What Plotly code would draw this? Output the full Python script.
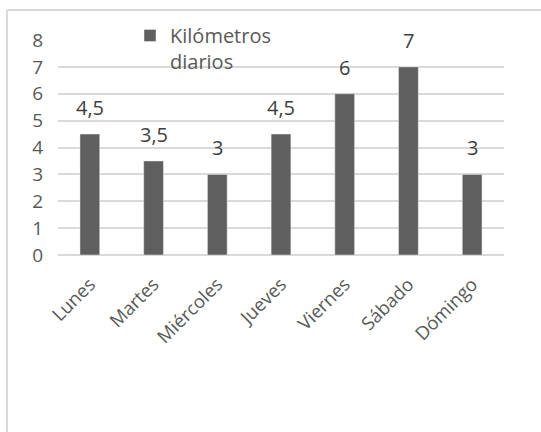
import plotly.graph_objects as go

dias = ["Lunes", "Martes", "Miércoles", "Jueves", "Viernes", "Sábado", "Dómingo"]
km = [4.5, 3.5, 3, 4.5, 6, 7, 3]
etiquetas = ["4,5", "3,5", "3", "4,5", "6", "7", "3"]
serie = "Kilómetros<br>diarios"

W, H = 541, 432
L, R, T, B = 58, 37, 40, 177
pw, ph = W - L - R, H - T - B

fig = go.Figure(go.Bar(
    x=dias, y=km, name=serie,
    marker=dict(color="#5f5f5f"), showlegend=True,
))

for d, v, t in zip(dias, km, etiquetas):
    fig.add_annotation(x=d, y=v, text=t, showarrow=False, yanchor="bottom",
                       yshift=11, font=dict(size=20, color="#404040"))

def px_x(p):
    return (p - L) / pw

def px_y(p):
    return (H - B - p) / ph

fig.update_layout(
    width=W, height=H,
    margin=dict(l=L, r=R, t=T, b=B),
    paper_bgcolor="white", plot_bgcolor="white",
    font=dict(family="Open Sans", color="#595959", size=18),
    bargap=0.69,
    xaxis=dict(tickangle=-45, tickfont=dict(size=18.5), showgrid=False,
               showline=False, ticks="", ticklabelstandoff=14),
    yaxis=dict(range=[0, 8], dtick=1, showgrid=True, gridcolor="#d9d9d9",
               gridwidth=2, zeroline=True, zerolinecolor="#d9d9d9",
               zerolinewidth=2, tickfont=dict(size=19), ticks="",
               ticklabelstandoff=14),
    legend=dict(x=px_x(130), y=px_y(16), xanchor="left", yanchor="top",
                bgcolor="rgba(0,0,0,0)", font=dict(size=20, color="#595959"),
                itemwidth=30, valign="top", tracegroupgap=0),
    shapes=[
        dict(type="line", xref="paper", yref="paper", x0=px_x(7), x1=px_x(W),
             y0=px_y(10), y1=px_y(10), line=dict(color="#d9d9d9", width=2)),
        dict(type="line", xref="paper", yref="paper", x0=px_x(7), x1=px_x(7),
             y0=px_y(10), y1=px_y(H), line=dict(color="#d9d9d9", width=2)),
    ],
)

fig.write_html("out.html")
